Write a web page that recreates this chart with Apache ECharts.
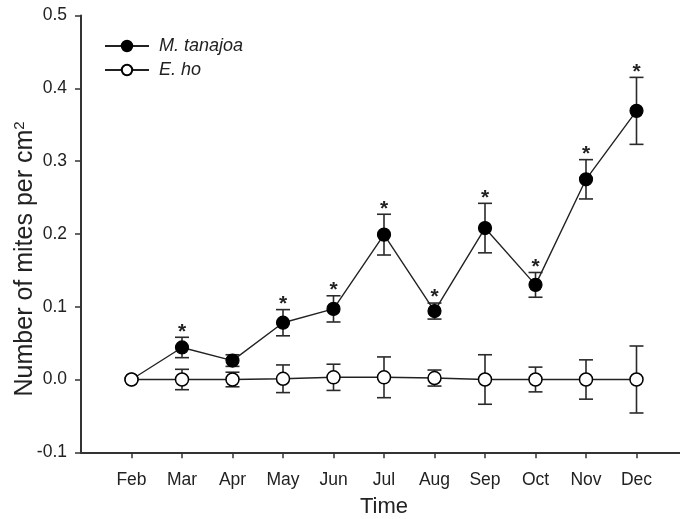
<!DOCTYPE html>
<html>
<head>
<meta charset="utf-8">
<script src="https://cdn.jsdelivr.net/npm/echarts@6/dist/echarts.min.js"></script>
<style>html,body{margin:0;padding:0;background:#fff}#c{width:680px;height:519px}</style>
</head>
<body>
<div id="c"></div>
<script>
var months = ['Feb','Mar','Apr','May','Jun','Jul','Aug','Sep','Oct','Nov','Dec'];
var tanajoaMean = [0, 0.044, 0.026, 0.078, 0.097, 0.199, 0.094, 0.208, 0.130, 0.275, 0.369];
var tanajoaErr  = [0, 0.014, 0.008, 0.018, 0.018, 0.028, 0.011, 0.034, 0.017, 0.027, 0.046];
var hoMean = [0, 0, 0, 0.001, 0.003, 0.003, 0.002, 0, 0, 0, 0];
var hoErr  = [0, 0.014, 0.010, 0.019, 0.018, 0.028, 0.011, 0.034, 0.017, 0.027, 0.046];
var significant = [false, true, false, true, true, true, true, true, true, true, true];
var yTicks = [-0.1, 0, 0.1, 0.2, 0.3, 0.4, 0.5];

var FONT = '"Liberation Sans", Arial, sans-serif';
var INK = '#222';

function pairs(arr) { return arr.map(function (v, i) { return [i, v]; }); }
function errData(mean, err) { return mean.map(function (v, i) { return [i, v, err[i]]; }); }

function errorBarRender(params, api) {
  var x = api.value(0), m = api.value(1), e = api.value(2);
  if (!e) return { type: 'group', children: [] };
  var top = api.coord([x, m + e]);
  var bot = api.coord([x, m - e]);
  var w = 7;
  var st = { stroke: '#2a2a2a', lineWidth: 1.6 };
  return {
    type: 'group',
    children: [
      { type: 'line', shape: { x1: top[0], y1: top[1], x2: bot[0], y2: bot[1] }, style: st },
      { type: 'line', shape: { x1: top[0] - w, y1: top[1], x2: top[0] + w, y2: top[1] }, style: st },
      { type: 'line', shape: { x1: bot[0] - w, y1: bot[1], x2: bot[0] + w, y2: bot[1] }, style: st }
    ]
  };
}

function starRender(params, api) {
  var i = params.dataIndex;
  if (!significant[i]) return { type: 'group', children: [] };
  var x = api.value(0), m = api.value(1), e = api.value(2);
  var top = api.coord([x, m + e]);
  return {
    type: 'text',
    style: {
      text: '*', x: top[0], y: top[1] + 5,
      align: 'center', verticalAlign: 'bottom',
      font: 'bold 21px ' + FONT, fill: INK
    }
  };
}

var chart = echarts.init(document.getElementById('c'), null, { renderer: 'canvas' });
chart.setOption({
  animation: false,
  backgroundColor: '#fff',
  grid: { left: 81, top: 15.5, bottom: 66.7, width: 606, containLabel: false, outerBoundsMode: 'none' },
  legend: {
    left: 104, top: 37, orient: 'vertical', padding: 0,
    itemWidth: 44, itemHeight: 13, itemGap: 6,
    textStyle: { fontFamily: FONT, fontSize: 18, fontStyle: 'italic', color: INK, padding: [0, 0, 0, 5] },
    data: ['M. tanajoa', 'E. ho']
  },
  xAxis: {
    type: 'value', min: -1, max: 11, interval: 1,
    name: 'Time', nameLocation: 'middle', nameGap: 44, nameMoveOverlap: false,
    nameTextStyle: { fontFamily: FONT, fontSize: 22, color: INK },
    axisLine: { show: true, onZero: false, lineStyle: { color: '#333', width: 2 } },
    axisTick: { show: true, inside: false, length: 6, lineStyle: { color: '#333', width: 1.5 },
      customValues: months.map(function (m, i) { return i; }) },
    axisLabel: { fontFamily: FONT, fontSize: 17.5, color: INK, margin: 19,
      customValues: months.map(function (m, i) { return i; }),
      formatter: function (v) { return months[Math.round(v)] || ''; } },
    splitLine: { show: false }
  },
  yAxis: {
    type: 'value', min: -0.1, max: 0.5, interval: 0.1,
    name: '{a|Number of mites per cm}{s|2}', nameLocation: 'middle', nameGap: 42, nameRotate: 90,
    nameMoveOverlap: false,
    nameTextStyle: { fontFamily: FONT, fontSize: 25, color: INK, padding: [0, 50, 0, 0],
      rich: { a: { fontFamily: FONT, fontSize: 25, color: INK },
              s: { fontFamily: FONT, fontSize: 15, color: INK, verticalAlign: 'top', padding: [0, 0, 12, 0] } } },
    axisLine: { show: true, onZero: false, lineStyle: { color: '#333', width: 2 } },
    axisTick: { show: true, inside: false, length: 6, lineStyle: { color: '#333', width: 1.5 } },
    axisLabel: { fontFamily: FONT, fontSize: 17.5, color: INK, margin: 14,
      customValues: yTicks,
      formatter: function (v) { return v.toFixed(1); } },
    splitLine: { show: false }
  },
  series: [
    { type: 'custom', name: 'tErr', renderItem: errorBarRender, data: errData(tanajoaMean, tanajoaErr), z: 2, silent: true },
    { type: 'custom', name: 'hErr', renderItem: errorBarRender, data: errData(hoMean, hoErr), z: 2, silent: true },
    { type: 'custom', name: 'stars', renderItem: starRender, data: errData(tanajoaMean, tanajoaErr), z: 5, silent: true },
    { type: 'line', name: 'M. tanajoa', data: pairs(tanajoaMean), symbol: 'circle', symbolSize: 13,
      lineStyle: { color: INK, width: 1.4 }, itemStyle: { color: '#000', borderColor: '#000', borderWidth: 1.2 }, z: 3 },
    { type: 'line', name: 'E. ho', data: pairs(hoMean), symbol: 'circle', symbolSize: 13,
      lineStyle: { color: INK, width: 1.4 }, itemStyle: { color: '#fff', borderColor: '#000', borderWidth: 1.5 }, z: 4 }
  ]
});
</script>
</body>
</html>
